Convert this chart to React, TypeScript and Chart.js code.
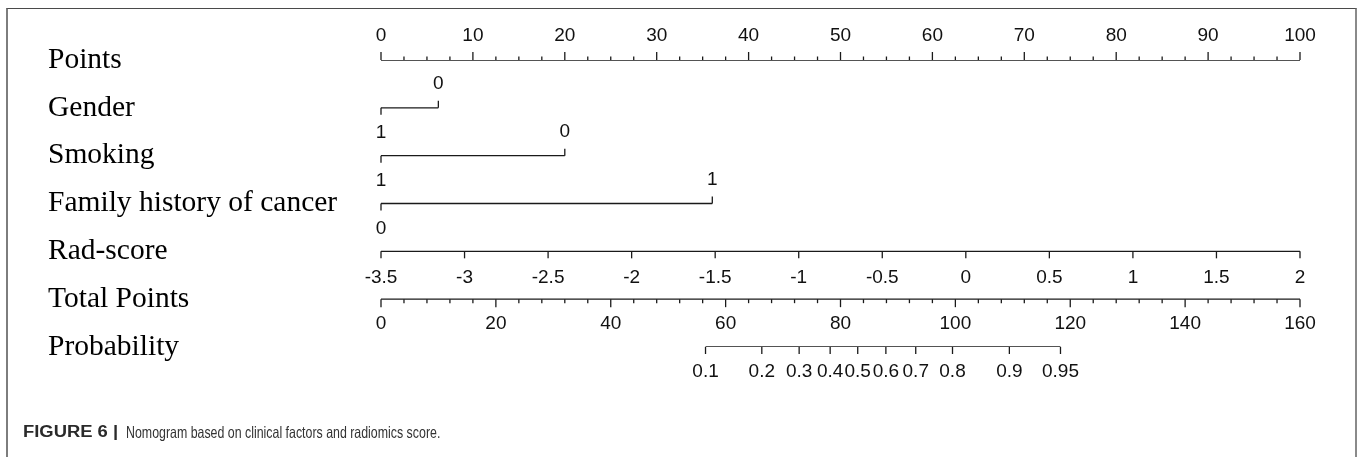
import React, { useEffect, useRef } from "react";
import { Chart, registerables } from "chart.js";

Chart.register(...registerables);

// ---------- data ----------
const rowNames = [
  "Points",
  "Gender",
  "Smoking",
  "Family history of cancer",
  "Rad-score",
  "Total Points",
  "Probability",
];

// Points axis (0..100)
const pointsMajorTicks = [0, 10, 20, 30, 40, 50, 60, 70, 80, 90, 100];
const pointsMinorStep = 2.5;

// Categorical predictors: level labels, points, label side
const genderLevels = ["1", "0"];
const genderPoints = [0, 6.24];
const smokingLevels = ["1", "0"];
const smokingPoints = [0, 20.0];
const familyLevels = ["0", "1"];
const familyPoints = [0, 36.05];
const levelSides = ["below", "above"];

// Rad-score axis
const radScoreTicks = [-3.5, -3, -2.5, -2, -1.5, -1, -0.5, 0, 0.5, 1, 1.5, 2];
const radScoreLabels = ["-3.5", "-3", "-2.5", "-2", "-1.5", "-1", "-0.5", "0", "0.5", "1", "1.5", "2"];
const radScoreAtZeroPoints = -3.5;
const radScoreAtMaxPoints = 2;

// Total points axis
const totalPointsMajorTicks = [0, 20, 40, 60, 80, 100, 120, 140, 160];
const totalPointsMinorStep = 4;
const totalPointsMax = 160;

// Probability axis: labels and their total-points positions
const probabilityLabels = ["0.1", "0.2", "0.3", "0.4", "0.5", "0.6", "0.7", "0.8", "0.9", "0.95"];
const probabilityTotalPoints = [56.5, 66.3, 72.8, 78.2, 83.0, 87.9, 93.1, 99.5, 109.4, 118.3];

// ---------- helpers ----------
const POINTS_MAX = 100;
const radToPoints = (v: number) =>
  ((v - radScoreAtZeroPoints) / (radScoreAtMaxPoints - radScoreAtZeroPoints)) * POINTS_MAX;
const totalToPoints = (t: number) => (t / totalPointsMax) * POINTS_MAX;

const LINE_COLOR = "#1a1a1a";
const TICK_FONT = "19px 'Liberation Sans', Arial, Helvetica, sans-serif";
const LABEL_FONT_FAMILY = "'Liberation Serif', 'Times New Roman', Times, serif";

const segment = (row: number, from: number, to: number) => ({
  type: "line" as const,
  data: [
    { x: from, y: row },
    { x: to, y: row },
  ],
  borderColor: LINE_COLOR,
  borderWidth: 1.3,
  pointRadius: 0,
  fill: false,
});

const nomogramPlugin = {
  id: "nomogramAxes",
  afterDatasetsDraw(chart: any) {
    const ctx: CanvasRenderingContext2D = chart.ctx;
    const xs = chart.scales.x;
    const ys = chart.scales.y;
    const X = (p: number) => xs.getPixelForValue(p);
    const Y = (r: number) => ys.getPixelForValue(r);

    ctx.save();
    ctx.strokeStyle = LINE_COLOR;
    ctx.lineWidth = 1.3;
    ctx.fillStyle = "#111";
    ctx.font = TICK_FONT;
    ctx.textAlign = "center";
    ctx.textBaseline = "middle";

    const tick = (x: number, y: number, len: number) => {
      ctx.beginPath();
      ctx.moveTo(x, y);
      ctx.lineTo(x, y + len);
      ctx.stroke();
    };
    const ABOVE = -24;
    const BELOW = 25;

    // Row 0: Points
    {
      const y = Y(0);
      for (let p = 0; p <= POINTS_MAX + 1e-9; p += pointsMinorStep) {
        if (pointsMajorTicks.indexOf(p) < 0) tick(X(p), y, -3.5);
      }
      pointsMajorTicks.forEach((p) => {
        tick(X(p), y, -8);
        ctx.fillText(String(p), X(p), y + ABOVE);
      });
    }

    // Rows 1-3: categorical predictors
    const cats = [
      { row: 1, levels: genderLevels, pts: genderPoints },
      { row: 2, levels: smokingLevels, pts: smokingPoints },
      { row: 3, levels: familyLevels, pts: familyPoints },
    ];
    cats.forEach(({ row, levels, pts }) => {
      const y = Y(row);
      levels.forEach((lab, i) => {
        const x = X(pts[i]);
        const up = levelSides[i] === "above";
        tick(x, y, up ? -7 : 7);
        ctx.fillText(lab, x, y + (up ? ABOVE : BELOW));
      });
    });

    // Row 4: Rad-score
    {
      const y = Y(4);
      radScoreTicks.forEach((v, i) => {
        const x = X(radToPoints(v));
        tick(x, y, 7);
        ctx.fillText(radScoreLabels[i], x, y + 26);
      });
    }

    // Row 5: Total Points
    {
      const y = Y(5);
      for (let t = 0; t <= totalPointsMax + 1e-9; t += totalPointsMinorStep) {
        if (totalPointsMajorTicks.indexOf(t) < 0) tick(X(totalToPoints(t)), y, 4);
      }
      totalPointsMajorTicks.forEach((t) => {
        const x = X(totalToPoints(t));
        tick(x, y, 8);
        ctx.fillText(String(t), x, y + BELOW);
      });
    }

    // Row 6: Probability
    {
      const y = Y(6);
      probabilityTotalPoints.forEach((t, i) => {
        const x = X(totalToPoints(t));
        tick(x, y, 7);
        ctx.fillText(probabilityLabels[i], x, y + BELOW);
      });
    }

    ctx.restore();
  },
};

export default function App() {
  const canvasRef = useRef<HTMLCanvasElement>(null);

  useEffect(() => {
    if (!canvasRef.current) return;
    const datasets = [
      segment(0, 0, POINTS_MAX),
      segment(1, genderPoints[0], genderPoints[genderPoints.length - 1]),
      segment(2, smokingPoints[0], smokingPoints[smokingPoints.length - 1]),
      segment(3, familyPoints[0], familyPoints[familyPoints.length - 1]),
      segment(4, radToPoints(radScoreTicks[0]), radToPoints(radScoreTicks[radScoreTicks.length - 1])),
      segment(5, 0, totalToPoints(totalPointsMax)),
      segment(
        6,
        totalToPoints(probabilityTotalPoints[0]),
        totalToPoints(probabilityTotalPoints[probabilityTotalPoints.length - 1])
      ),
    ];
    const chart = new Chart(canvasRef.current, {
      type: "line",
      data: { datasets },
      options: {
        animation: false,
        responsive: false,
        maintainAspectRatio: false,
        layout: { padding: { left: 48, right: 57, top: 60, bottom: 53 } },
        plugins: { legend: { display: false }, tooltip: { enabled: false } },
        scales: {
          x: { type: "linear", min: 0, max: POINTS_MAX, display: false },
          y: {
            type: "linear",
            min: 0,
            max: rowNames.length - 1,
            reverse: true,
            grid: { display: false },
            border: { display: false },
            afterFit: (scale: any) => {
              scale.width = 333;
            },
            ticks: {
              stepSize: 1,
              autoSkip: false,
              crossAlign: "far",
              padding: 0,
              color: "#000",
              font: { family: LABEL_FONT_FAMILY, size: 29.5 },
              callback: (v: any) => rowNames[Math.round(Number(v))] ?? "",
            },
          },
        },
      },
      plugins: [nomogramPlugin],
    });
    return () => chart.destroy();
  }, []);

  const captionFont = "'Liberation Sans', Arial, Helvetica, sans-serif";

  return (
    <div style={{ position: "absolute", left: 0, top: 0, width: 1357, height: 457, background: "#fff" }}>
      <canvas ref={canvasRef} width={1357} height={400} style={{ position: "absolute", left: 0, top: 0 }} />
      <div
        style={{
          position: "absolute",
          left: 6,
          top: 8,
          width: 1351,
          height: 449,
          boxSizing: "border-box",
          borderLeft: "2px solid #7d7d7d",
          borderTop: "1px solid #4a4a4a",
          borderRight: "2px solid #8a8a8a",
          pointerEvents: "none",
        }}
      />
      <div
        style={{
          position: "absolute",
          left: 23,
          top: 423,
          fontFamily: captionFont,
          fontSize: 16,
          fontWeight: "bold",
          lineHeight: "18px",
          color: "#2a2a2a",
          whiteSpace: "nowrap",
          transform: "scaleX(1.15)",
          transformOrigin: "left center",
        }}
      >
        FIGURE 6 |
      </div>
      <div
        style={{
          position: "absolute",
          left: 126,
          top: 423,
          fontFamily: captionFont,
          fontSize: 16.5,
          lineHeight: "18px",
          color: "#333",
          whiteSpace: "nowrap",
          transform: "scaleX(0.75)",
          transformOrigin: "left center",
        }}
      >
        Nomogram based on clinical factors and radiomics score.
      </div>
    </div>
  );
}
